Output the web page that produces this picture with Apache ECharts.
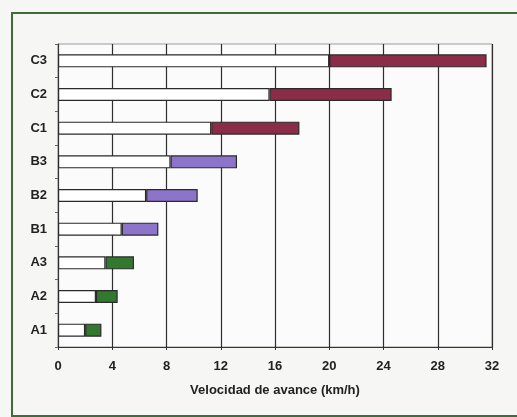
<!DOCTYPE html>
<html>
<head>
<meta charset="utf-8">
<script src="https://cdn.jsdelivr.net/npm/echarts@6/dist/echarts.min.js"></script>
<style>
html,body{margin:0;padding:0;background:#f6f7f5;}
#c{width:517px;height:417px;}
</style>
</head>
<body>
<div id="c"></div>
<script>
var categories = ['A1','A2','A3','B1','B2','B3','C1','C2','C3'];
var startValues = [2.0, 2.8, 3.5, 4.7, 6.5, 8.3, 11.3, 15.6, 20.0];
var rangeValues = [1.2, 1.6, 2.1, 2.7, 3.8, 4.9, 6.5, 9.0, 11.6];
var xTicks = [0, 4, 8, 12, 16, 20, 24, 28, 32];
var axisTitle = 'Velocidad de avance (km/h)';

var groupColors = {A:'#32792f', B:'#8c74cb', C:'#8b2c49'};

var chart = echarts.init(document.getElementById('c'), null, {renderer:'canvas'});
chart.setOption({
  backgroundColor: '#f6f7f5',
  animation: false,
  graphic: [{
    type: 'rect', left: 11, top: 12, z: -1,
    shape: {width: 520, height: 403},
    style: {fill: 'transparent', stroke: '#3f6d3a', lineWidth: 2}
  }],
  grid: {left: 58, right: 25, top: 44, bottom: 70, show: true,
         backgroundColor: '#fbfbfb', borderColor: '#9a9a9a', borderWidth: 1},
  xAxis: {
    type: 'value', min: 0, max: 32, interval: 4,
    name: axisTitle, nameLocation: 'middle', nameGap: 37,
    nameTextStyle: {fontFamily: 'Liberation Sans', fontWeight: 'bold', fontSize: 13, color: '#222'},
    axisLine: {show: true, lineStyle: {color: '#333', width: 1}},
    axisTick: {show: true, length: 3, lineStyle: {color: '#333'}},
    axisLabel: {fontFamily: 'Liberation Sans', fontWeight: 'bold', fontSize: 13, color: '#222', margin: 13,
                formatter: function(v){ return xTicks.indexOf(v) >= 0 ? String(v) : ''; }},
    splitLine: {show: true, lineStyle: {color: '#2e2e2e', width: 1.2}}
  },
  yAxis: {
    type: 'category', data: categories,
    axisLine: {show: true, lineStyle: {color: '#333', width: 1}},
    axisTick: {show: true, length: 3, lineStyle: {color: '#666'}},
    axisLabel: {fontFamily: 'Liberation Sans', fontWeight: 'bold', fontSize: 13, color: '#222', margin: 11},
    splitLine: {show: false}
  },
  series: [
    {type: 'bar', stack: 'v', data: startValues, barWidth: 13,
     itemStyle: {color: '#ffffff', borderColor: '#2a2a2a', borderWidth: 1.2}},
    {type: 'bar', stack: 'v', data: rangeValues, barWidth: 13,
     itemStyle: {borderColor: '#2a2a2a', borderWidth: 1.2,
       color: function(p){ return groupColors[p.name.charAt(0)]; }}}
  ]
});
</script>
</body>
</html>
